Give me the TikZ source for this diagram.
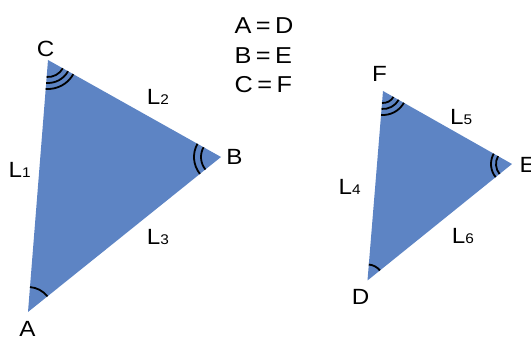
\documentclass[tikz,border=0pt]{standalone}
\usepackage{fontspec}
\setmainfont{Liberation Sans}
\usetikzlibrary{angles}
\definecolor{triblue}{RGB}{93,132,196}
\newcommand\lsub[1]{{\fontsize{14}{14}\selectfont #1}}
\begin{document}
\begin{tikzpicture}[x=1pt,y=1pt,
  lab/.style={font=\fontsize{22}{26}\selectfont, inner sep=0pt, anchor=base, xscale=1.1},
  side/.style={font=\fontsize{22}{26}\selectfont, inner sep=0pt, anchor=base west, xscale=1.1},
  eq/.style={font=\fontsize{23}{27}\selectfont, inner sep=0pt, anchor=base west, xscale=1.1},
  tri/.style={fill=triblue},
  anglemark/.style={draw, line width=1.8pt}]
\useasboundingbox (0,0) rectangle (531,339);
% vertices
\coordinate (A) at (28,27);
\coordinate (B) at (221,182);
\coordinate (C) at (48,279);
\coordinate (D) at (367.5,58.5);
\coordinate (E) at (512,175);
\coordinate (F) at (383,248);
% triangles
\fill[tri] (A) -- (B) -- (C) -- cycle;
\fill[tri] (D) -- (E) -- (F) -- cycle;
% angle marks
\pic[anglemark, angle radius=25pt] {angle=B--A--C};
\pic[anglemark, angle radius=20pt] {angle=C--B--A};
\pic[anglemark, angle radius=27pt] {angle=C--B--A};
\pic[anglemark, angle radius=17pt] {angle=A--C--B};
\pic[anglemark, angle radius=23pt] {angle=A--C--B};
\pic[anglemark, angle radius=29pt] {angle=A--C--B};
\pic[anglemark, angle radius=16pt] {angle=E--D--F};
\pic[anglemark, angle radius=16pt] {angle=F--E--D};
\pic[anglemark, angle radius=21pt] {angle=F--E--D};
\pic[anglemark, angle radius=12pt] {angle=D--F--E};
\pic[anglemark, angle radius=18pt] {angle=D--F--E};
\pic[anglemark, angle radius=24pt] {angle=D--F--E};
% vertex labels
\node[lab] (lA) at (27.5,2.3) {A};
\node[lab] (lB) at (234.5,174) {B};
\node[lab] (lC) at (45.5,282.7) {C};
\node[lab] (lD) at (360.5,34) {D};
\node[side] (lE) at (519.5,166) {E};
\node[lab] (lF) at (379.5,257.3) {F};
% side labels
\node[side] (l1) at (8.5,161) {L\lsub{1}};
\node[side] (l2) at (146.7,234) {L\lsub{2}};
\node[side] (l3) at (146.7,94) {L\lsub{3}};
\node[side] (l4) at (338.4,144) {L\lsub{4}};
\node[side] (l5) at (450,214) {L\lsub{5}};
\node[side] (l6) at (451.7,95.7) {L\lsub{6}};
% equalities
\node[eq] (e1) at (234.5,305.7) {A\kern4pt=\kern4pt D};
\node[eq] (e2) at (234.5,275.7) {B\kern4pt=\kern4pt E};
\node[eq] (e3) at (234.5,246) {C\kern4pt=\kern4pt F};
\end{tikzpicture}
\end{document}
